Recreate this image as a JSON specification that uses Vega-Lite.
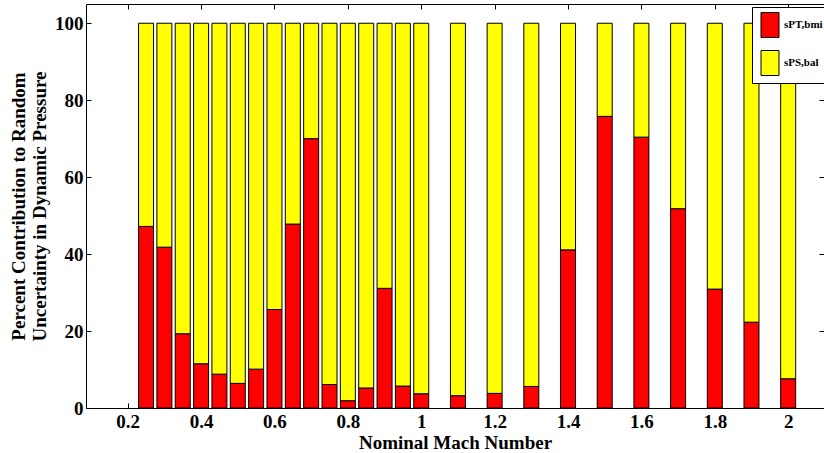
{
  "$schema": "https://vega.github.io/schema/vega-lite/v6.json",
  "autosize": {"type": "none"},
  "padding": {"left": 86, "top": 4, "right": 0, "bottom": 45},
  "width": 738,
  "height": 404,
  "background": "white",
  "config": {
    "view": {"stroke": null},
    "font": "Liberation Serif",
    "axis": {"grid": false, "domainColor": "black", "tickColor": "black", "labelColor": "black", "titleColor": "black", "labelFont": "Liberation Serif", "titleFont": "Liberation Serif", "labelFontWeight": "bold", "titleFontWeight": "bold", "labelFontSize": 19, "titleFontSize": 19}
  },
  "data": {"values": [
    {"m": 0.25, "c": "sPT,bmi", "p": 47.2}, {"m": 0.25, "c": "sPS,bal", "p": 52.8},
    {"m": 0.30, "c": "sPT,bmi", "p": 41.8}, {"m": 0.30, "c": "sPS,bal", "p": 58.2},
    {"m": 0.35, "c": "sPT,bmi", "p": 19.3}, {"m": 0.35, "c": "sPS,bal", "p": 80.7},
    {"m": 0.40, "c": "sPT,bmi", "p": 11.5}, {"m": 0.40, "c": "sPS,bal", "p": 88.5},
    {"m": 0.45, "c": "sPT,bmi", "p": 8.8}, {"m": 0.45, "c": "sPS,bal", "p": 91.2},
    {"m": 0.50, "c": "sPT,bmi", "p": 6.4}, {"m": 0.50, "c": "sPS,bal", "p": 93.6},
    {"m": 0.55, "c": "sPT,bmi", "p": 10.1}, {"m": 0.55, "c": "sPS,bal", "p": 89.9},
    {"m": 0.60, "c": "sPT,bmi", "p": 25.6}, {"m": 0.60, "c": "sPS,bal", "p": 74.4},
    {"m": 0.65, "c": "sPT,bmi", "p": 47.8}, {"m": 0.65, "c": "sPS,bal", "p": 52.2},
    {"m": 0.70, "c": "sPT,bmi", "p": 70.0}, {"m": 0.70, "c": "sPS,bal", "p": 30.0},
    {"m": 0.75, "c": "sPT,bmi", "p": 6.1}, {"m": 0.75, "c": "sPS,bal", "p": 93.9},
    {"m": 0.80, "c": "sPT,bmi", "p": 1.9}, {"m": 0.80, "c": "sPS,bal", "p": 98.1},
    {"m": 0.85, "c": "sPT,bmi", "p": 5.2}, {"m": 0.85, "c": "sPS,bal", "p": 94.8},
    {"m": 0.90, "c": "sPT,bmi", "p": 31.1}, {"m": 0.90, "c": "sPS,bal", "p": 68.9},
    {"m": 0.95, "c": "sPT,bmi", "p": 5.7}, {"m": 0.95, "c": "sPS,bal", "p": 94.3},
    {"m": 1.00, "c": "sPT,bmi", "p": 3.7}, {"m": 1.00, "c": "sPS,bal", "p": 96.3},
    {"m": 1.10, "c": "sPT,bmi", "p": 3.2}, {"m": 1.10, "c": "sPS,bal", "p": 96.8},
    {"m": 1.20, "c": "sPT,bmi", "p": 3.8}, {"m": 1.20, "c": "sPS,bal", "p": 96.2},
    {"m": 1.30, "c": "sPT,bmi", "p": 5.6}, {"m": 1.30, "c": "sPS,bal", "p": 94.4},
    {"m": 1.40, "c": "sPT,bmi", "p": 41.1}, {"m": 1.40, "c": "sPS,bal", "p": 58.9},
    {"m": 1.50, "c": "sPT,bmi", "p": 75.8}, {"m": 1.50, "c": "sPS,bal", "p": 24.2},
    {"m": 1.60, "c": "sPT,bmi", "p": 70.4}, {"m": 1.60, "c": "sPS,bal", "p": 29.6},
    {"m": 1.70, "c": "sPT,bmi", "p": 51.8}, {"m": 1.70, "c": "sPS,bal", "p": 48.2},
    {"m": 1.80, "c": "sPT,bmi", "p": 30.9}, {"m": 1.80, "c": "sPS,bal", "p": 69.1},
    {"m": 1.90, "c": "sPT,bmi", "p": 22.3}, {"m": 1.90, "c": "sPS,bal", "p": 77.7},
    {"m": 2.00, "c": "sPT,bmi", "p": 7.6}, {"m": 2.00, "c": "sPS,bal", "p": 92.4}
  ]},
  "layer": [
    {
      "mark": {"type": "bar", "width": 15, "stroke": "black", "strokeWidth": 1},
      "encoding": {
        "x": {"field": "m", "type": "quantitative", "scale": {"domain": [0.1, 2.084], "nice": false, "zero": false},
              "axis": {"orient": "bottom", "values": [0.2, 0.4, 0.6, 0.8, 1, 1.2, 1.4, 1.6, 1.8, 2], "format": ".2~f", "tickSize": -5, "labelPadding": 9, "title": "Nominal Mach Number", "titlePadding": 2}},
        "y": {"field": "p", "type": "quantitative", "stack": "zero", "scale": {"domain": [0, 105], "nice": false},
              "axis": {"orient": "left", "values": [0, 20, 40, 60, 80, 100], "tickSize": -5, "labelPadding": 8, "title": ["Percent Contribution to Random", "Uncertainty in Dynamic Pressure"], "titlePadding": 5, "titleLineHeight": 21}},
        "color": {"field": "c", "type": "nominal", "scale": {"domain": ["sPT,bmi", "sPS,bal"], "range": ["#ff0000", "#ffff00"]},
                  "legend": {"title": null, "orient": "none", "legendX": 666, "legendY": 3, "fillColor": "white", "strokeColor": "black", "padding": 5, "symbolType": "M-0.72,-1H0.72V1H-0.72Z", "symbolSize": 625, "symbolStrokeColor": "black", "symbolStrokeWidth": 1, "symbolOpacity": 1, "rowPadding": 8, "labelFont": "Liberation Serif", "labelFontWeight": "bold", "labelFontSize": 11, "labelColor": "black", "labelOffset": 1}},
        "order": {"field": "c", "sort": "descending"}
      }
    },
    {
      "mark": {"type": "point", "opacity": 0},
      "encoding": {
        "x": {"field": "m", "type": "quantitative", "axis": {"orient": "top", "values": [0.2, 0.4, 0.6, 0.8, 1, 1.2, 1.4, 1.6, 1.8, 2], "labels": false, "domain": true, "ticks": true, "tickSize": -5, "title": null}},
        "y": {"field": "p", "type": "quantitative", "axis": {"orient": "right", "values": [0, 20, 40, 60, 80, 100], "labels": false, "domain": false, "ticks": true, "tickSize": -5, "title": null}}
      }
    }
  ],
  "resolve": {"axis": {"x": "independent", "y": "independent"}}
}
